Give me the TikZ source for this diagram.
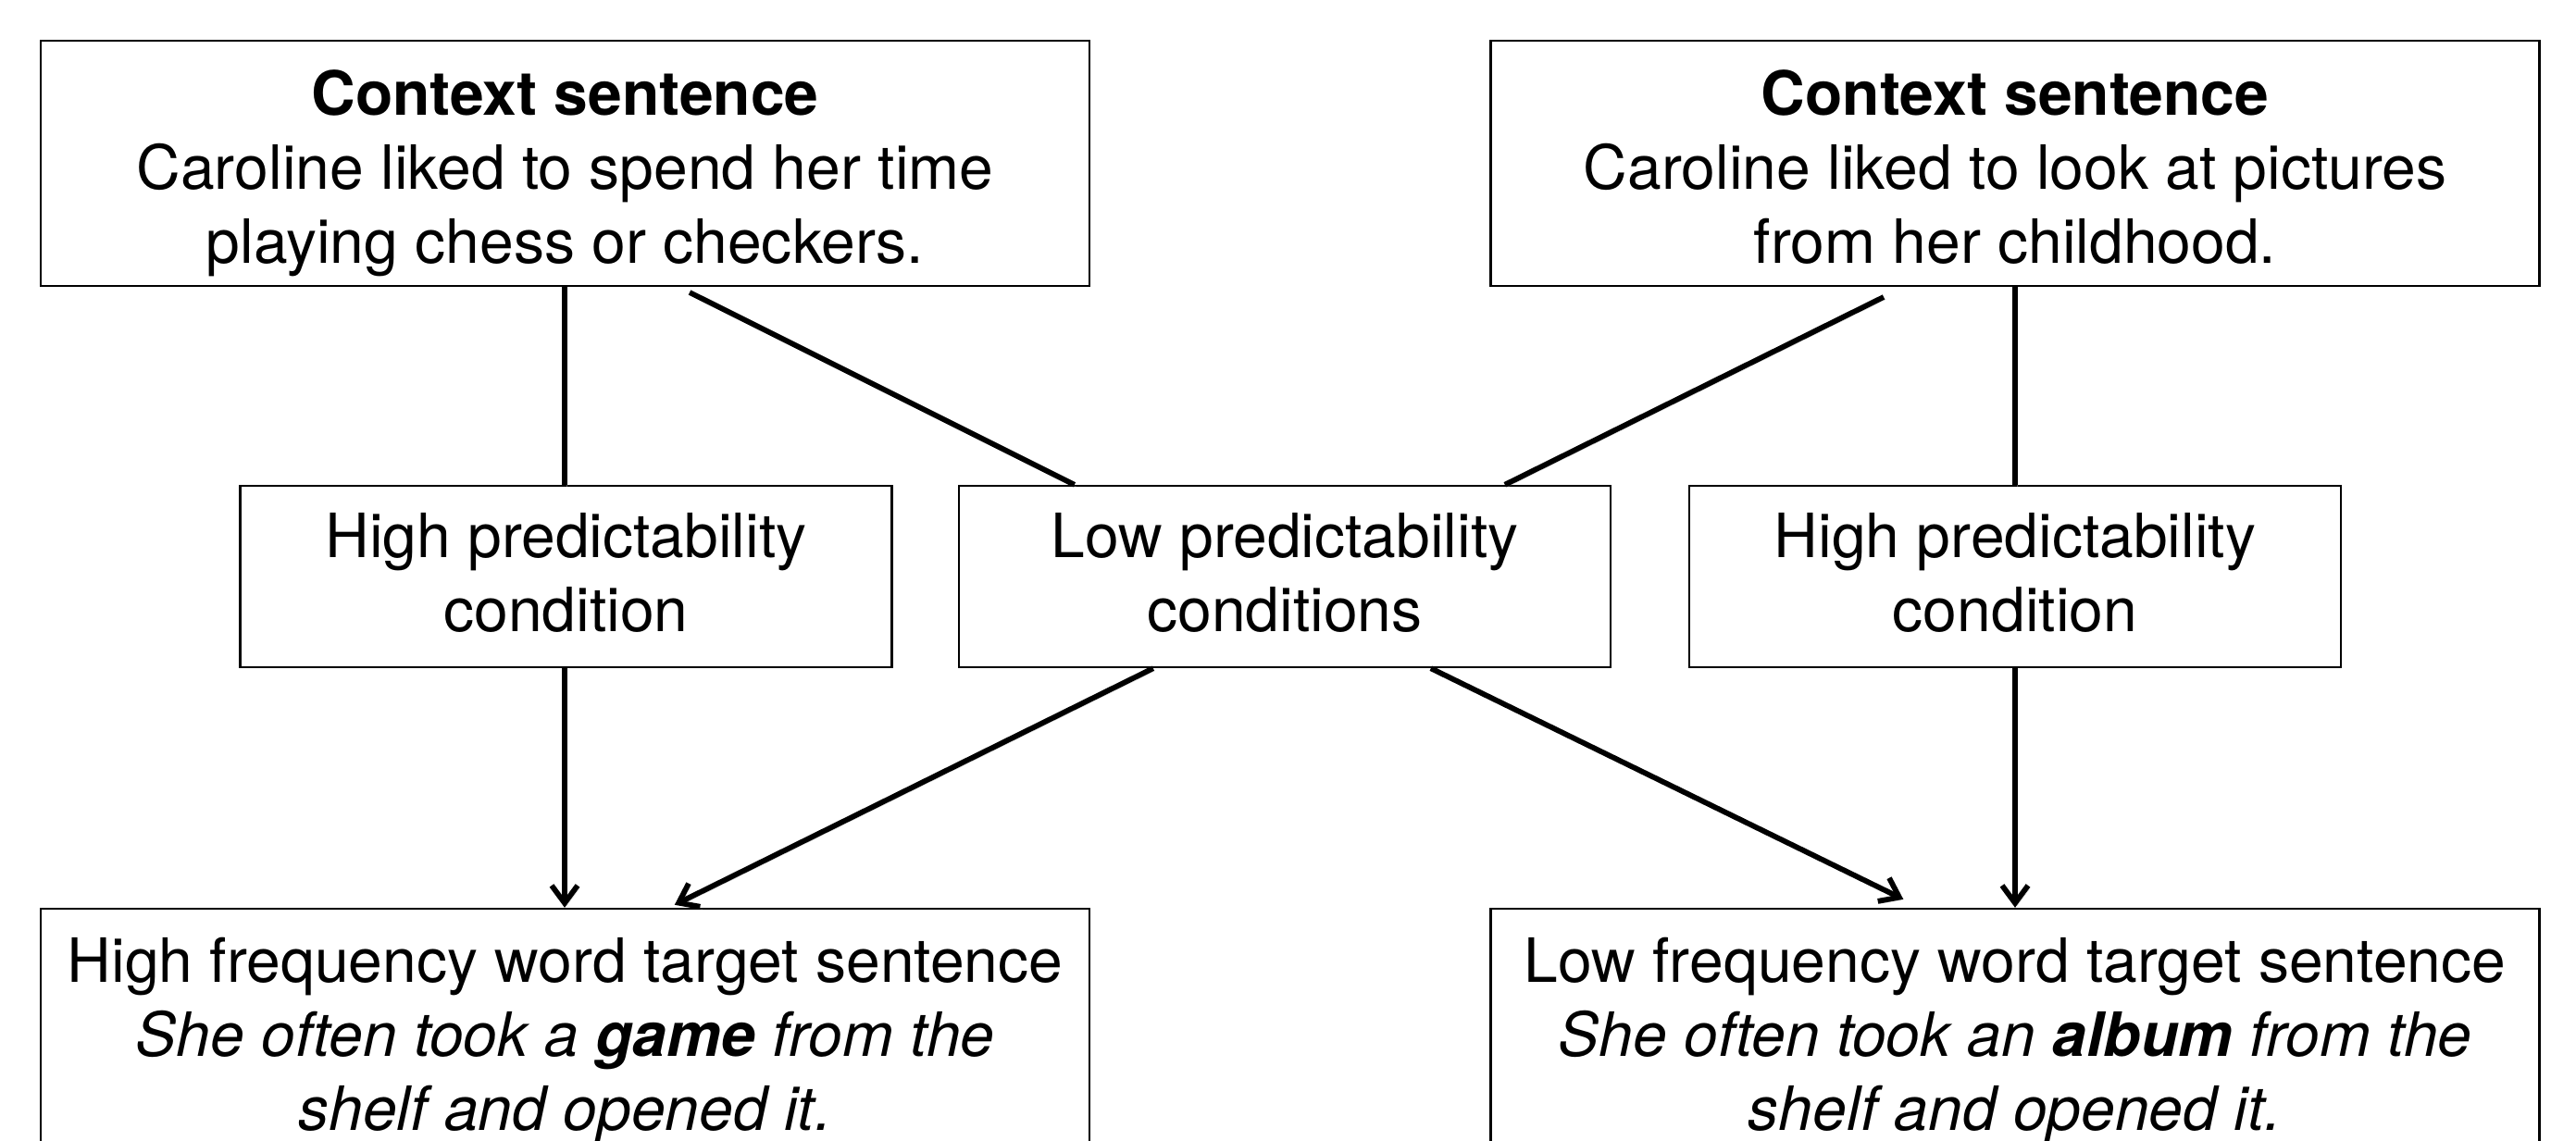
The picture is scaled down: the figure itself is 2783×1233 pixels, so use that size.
\documentclass[tikz,border=0pt]{standalone}
\usepackage{fontspec}
\setmainfont{TeX Gyre Heros}
\usetikzlibrary{arrows.meta,calc}
\newcommand{\myHstrut}[1]{\rule{0pt}{#1pt}}
\newcommand{\myDstrut}[1]{\rule[-#1pt]{0pt}{#1pt}}
\begin{document}
\begin{tikzpicture}[x=1pt,y=-1pt,
  box/.style={draw=black, line width=2.4pt, fill=white, align=center,
    font=\fontsize{66}{80}\selectfont, inner sep=0pt},
  bigbox/.style={box, minimum width=1133pt, minimum height=265pt},
  midbox/.style={box, minimum width=704pt, minimum height=196pt},
  shadowed/.style={preaction={draw, black!35, opacity=0.45,
    transform canvas={shift={(2.5pt,-2.5pt)}}}},
  link/.style={line width=5.8pt, shadowed},
  arr/.style={link, -{Straight Barb[length=19pt,width=28pt]}}
]
\useasboundingbox (0,0) rectangle (2783,1233);
\fill[white] (0,0) rectangle (2783,1233);

\node[bigbox] (ctxL) at (610.5,176.5) {\myHstrut{72}\textbf{Context sentence}\\Caroline liked to spend her time\\playing chess or checkers.\myDstrut{17}};
\node[bigbox] (ctxR) at (2177,176.5) {\myHstrut{72}\textbf{Context sentence}\\Caroline liked to look at pictures\\from her childhood.\myDstrut{17}};

\node[midbox] (hpL) at (611.5,623) {\myHstrut{60}High predictability\\condition\myDstrut{21}};
\node[midbox] (lp) at (1388,623) {\myHstrut{60}Low predictability\\conditions\myDstrut{21}};
\node[midbox] (hpR) at (2177,623) {\myHstrut{60}High predictability\\condition\myDstrut{21}};

\node[bigbox] (tgtL) at (610.5,1114.5) {\myHstrut{70}High frequency word target sentence\\\textit{She often took a \textbf{game} from the}\\\textit{shelf and opened it.}\myDstrut{17}};
\node[bigbox] (tgtR) at (2177,1114.5) {\myHstrut{70}Low frequency word target sentence\\\textit{She often took an \textbf{album} from the}\\\textit{shelf and opened it.}\myDstrut{17}};

% free start points of the diagonal links
\coordinate (dLs) at (745,316);
\coordinate (dRs) at (2035,321);
\coordinate (dLe) at ($(lp.north west)+(126,0)$);
\coordinate (dRe) at ($(lp.north west)+(591,0)$);
\coordinate (aLs) at ($(lp.south west)+(211,0)$);
\coordinate (aRs) at ($(lp.south west)+(511,0)$);
\coordinate (aLe) at ($(tgtL.north west)+(686,-3)$);
\coordinate (aRe) at ($(tgtR.north west)+(447,-9)$);

\draw[link] (ctxL.south -| 610,0) -- (hpL.north -| 610,0);
\draw[link] (ctxR.south) -- (hpR.north);
\draw[link] (dLs) -- (dLe);
\draw[link] (dRs) -- (dRe);

\draw[arr] (hpL.south -| 610,0) -- (tgtL.north -| 610,0);
\draw[arr] (hpR.south) -- (tgtR.north);
\draw[arr] (aLs) -- (aLe);
\draw[arr] (aRs) -- (aRe);
\end{tikzpicture}
\end{document}
